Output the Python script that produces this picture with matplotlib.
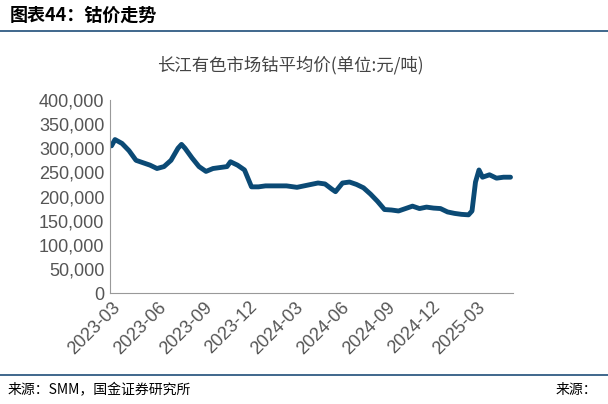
import matplotlib
matplotlib.use("Agg")
import matplotlib.pyplot as plt
import pandas as pd

plt.rcParams["font.family"] = ["Noto Sans CJK SC", "DejaVu Sans"]

dates = ["2023-03-01","2023-03-08","2023-03-22","2023-04-05","2023-04-19","2023-05-03","2023-05-17",
         "2023-05-31","2023-06-14","2023-06-28","2023-07-12","2023-07-19","2023-07-26","2023-08-09",
         "2023-08-23","2023-09-06","2023-09-20","2023-10-04","2023-10-18","2023-10-25","2023-11-08",
         "2023-11-22","2023-12-06","2023-12-20","2024-01-03","2024-01-24","2024-02-14","2024-03-06",
         "2024-03-20","2024-04-03","2024-04-17","2024-05-01","2024-05-15","2024-05-22","2024-06-05",
         "2024-06-19","2024-07-03","2024-07-17","2024-07-31","2024-08-14","2024-08-28","2024-09-11",
         "2024-09-25","2024-10-09","2024-10-23","2024-11-06","2024-11-20","2024-12-04","2024-12-18",
         "2025-01-01","2025-01-15","2025-01-29","2025-02-12","2025-02-19","2025-02-26","2025-03-05",
         "2025-03-12","2025-03-26","2025-04-09","2025-04-23","2025-05-07"]
prices = [305000,318000,310000,295000,275000,270000,265000,258000,262000,275000,300000,308000,300000,280000,
          262000,252000,258000,260000,262000,272000,265000,255000,220000,220000,222000,222000,222000,219000,
          222000,225000,228000,226000,215000,210000,228000,230000,225000,218000,205000,190000,173000,172000,
          170000,175000,180000,175000,178000,176000,175000,168000,165000,163000,162000,170000,230000,255000,
          240000,245000,238000,240000,240000]
yticks = list(range(0, 400001, 50000))
xticks = ["2023-03","2023-06","2023-09","2023-12","2024-03","2024-06","2024-09","2024-12","2025-03"]

x = pd.to_datetime(dates)
fig = plt.figure(figsize=(6.08, 4.04), dpi=100)
ax = fig.add_axes([110/608, 1-293/404, 403/608, 193/404])
ax.plot(x, prices, color="#0b4a75", lw=3.5, solid_capstyle="round")
ax.set_ylim(0, 400000)
ax.set_yticks(yticks)
ax.set_yticklabels([f"{v:,}" for v in yticks], fontsize=13, color="#555555", family="Liberation Sans")
xt = pd.to_datetime([s + "-01" for s in xticks])
ax.set_xticks(xt)
ax.set_xticklabels(xticks, rotation=45, ha="right", rotation_mode="anchor", fontsize=13,
                   color="#555555", family="Liberation Sans")
ax.set_xlim(pd.Timestamp("2023-02-26"), pd.Timestamp("2025-05-12"))
for s in ["top", "right"]:
    ax.spines[s].set_visible(False)
for s in ["left", "bottom"]:
    ax.spines[s].set_color("#999999")
ax.tick_params(length=0, pad=4)
fig.text(290/608, 1-65/404, "长江有色市场钴平均价(单位:元/吨)", ha="center", va="center", fontsize=12.5, color="#444444")
fig.text(10/608, 1-15/404, "图表44：钴价走势", ha="left", va="center", fontsize=13, fontweight="bold", style="italic")
fig.add_artist(plt.Line2D([0, 1], [1-31/404]*2, color="#1f4e79", lw=1.2))
fig.add_artist(plt.Line2D([0, 1], [1-375/404]*2, color="#1f4e79", lw=1.2))
fig.text(8/608, 1-390/404, "来源：SMM，国金证券研究所", ha="left", va="center", fontsize=10)
fig.text(556/608, 1-390/404, "来源：", ha="left", va="center", fontsize=10)
fig.savefig("out.png", dpi=100)
